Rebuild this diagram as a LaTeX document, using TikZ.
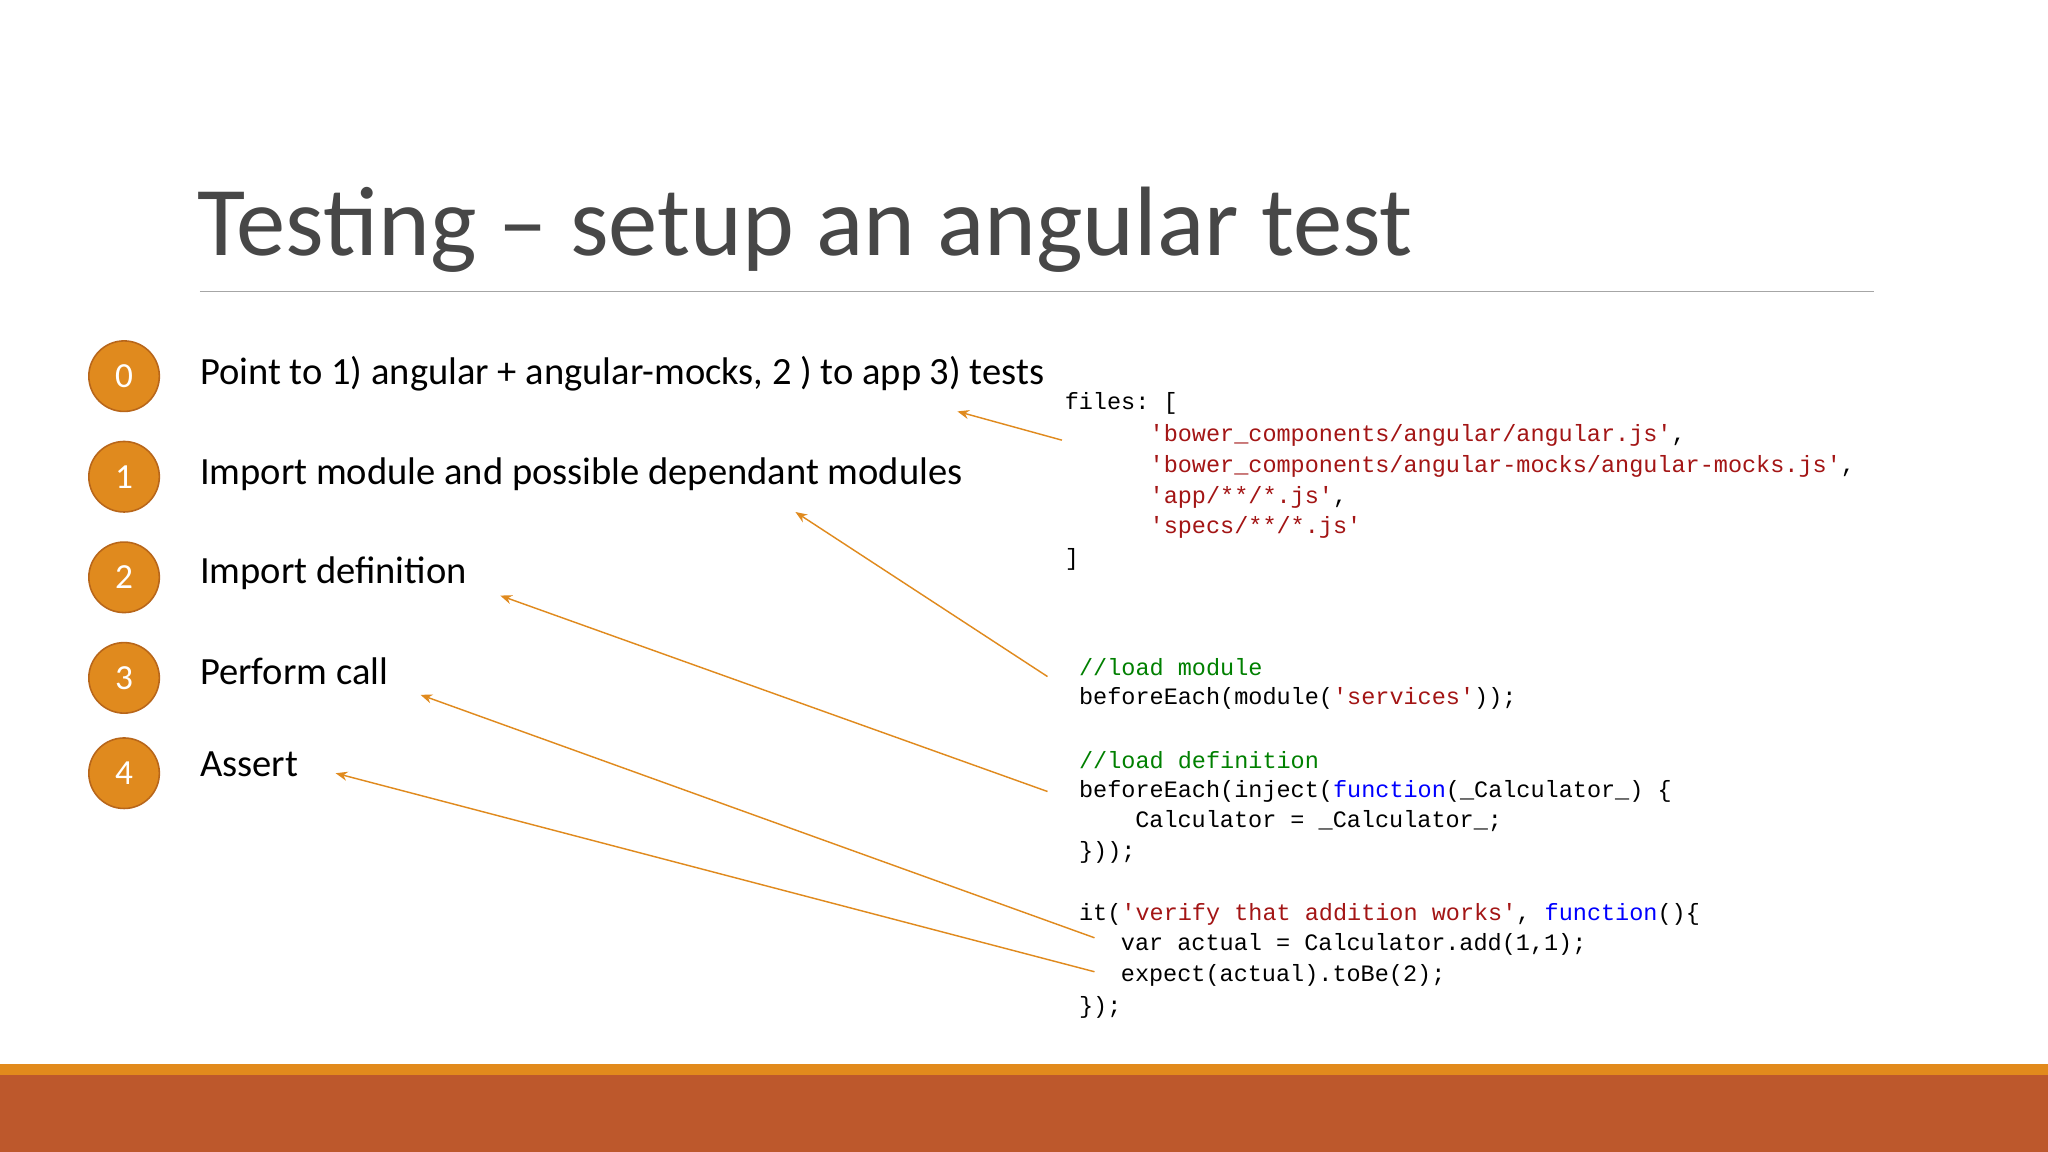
\documentclass[tikz,border=0pt]{standalone}
\usetikzlibrary{arrows.meta}
\usepackage{fontspec}
\setmainfont{Carlito}
\setmonofont{Liberation Mono}
\definecolor{circ}{HTML}{E08A1E}
\definecolor{circd}{HTML}{B8661A}
\definecolor{rust}{HTML}{BD582C}
\definecolor{barO}{HTML}{E28A1C}
\definecolor{cmt}{HTML}{008000}
\definecolor{str}{HTML}{A31515}
\definecolor{kw}{HTML}{0000FF}
\definecolor{arr}{HTML}{E08A1E}
\begin{document}
\begin{tikzpicture}[x=1pt,y=-1pt,
  num/.style={circle,fill=circ,draw=circd,line width=1.2pt,minimum size=54pt,inner sep=0pt,text=white,font=\fontsize{27}{30}\selectfont},
  item/.style={anchor=west,inner sep=0pt,font=\fontsize{29.5}{33}\selectfont},
  code/.style={anchor=west,inner sep=0pt,font=\ttfamily\fontsize{18}{22}\selectfont},
  arw/.style={draw=arr,line width=1.1pt,-{Stealth[length=9pt,width=7pt]}}]
\useasboundingbox (0,0) rectangle (1568,882);
\fill[white] (0,0) rectangle (1568,882);
\fill[barO] (0,815) rectangle (1568,823);
\fill[rust] (0,823) rectangle (1568,882);
\node[anchor=west,inner sep=0pt,text=black!72,font=\fontsize{75.5}{80}\selectfont] (title) at (151,176) {Testing – setup an angular test};
\draw[black!35,line width=1pt] (153,223) -- (1435,223);
\foreach \n/\y in {0/288,1/365,2/442,3/519,4/592}{\node[num] (c\n) at (95,\y) {\n};}
\node[item] (t0) at (153,286) {Point to 1) angular + angular-mocks, 2 ) to app 3) tests};
\node[item] (t1) at (153,363) {Import module and possible dependant modules};
\node[item] (t2) at (153,439) {Import definition};
\node[item] (t3) at (153,514) {Perform call};
\node[item] (t4) at (153,585) {Assert};
% files block
\node[code] (f0) at (815,309) {files: [};
\node[code,text=str] (f1) at (880,333) {'bower\_components/angular/angular.js'\textcolor{black}{,}};
\node[code,text=str] (f2) at (880,357) {'bower\_components/angular-mocks/angular-mocks.js'\textcolor{black}{,}};
\node[code,text=str] (f3) at (880,381) {'app/**/*.js'\textcolor{black}{,}};
\node[code,text=str] (f4) at (880,404) {'specs/**/*.js'};
\node[code] (f5) at (815,428) {]};
% second block
\node[code,text=cmt] (g1) at (826,511) {//load module};
\node[code] (g2) at (826,535) {beforeEach(module(\textcolor{str}{'services'}));};
\node[code,text=cmt] (g3) at (826,582) {//load definition};
\node[code] (g4) at (826,606) {beforeEach(inject(\textcolor{kw}{function}(\_Calculator\_) \{};
\node[code] (g5) at (869,629) {Calculator = \_Calculator\_;};
\node[code] (g6) at (826,653) {\}));};
\node[code] (g7) at (826,700) {it(\textcolor{str}{'verify that addition works'}, \textcolor{kw}{function}()\{};
\node[code] (g8) at (858,723) {var actual = Calculator.add(1,1);};
\node[code] (g9) at (858,747) {expect(actual).toBe(2);};
\node[code] (g10) at (826,771) {\});};
% arrows
\coordinate (a0s) at (813,337); \coordinate (a0e) at (733,315);
\coordinate (a1s) at (802,518); \coordinate (a1e) at (609,392);
\coordinate (a2s) at (802,606); \coordinate (a2e) at (383,456);
\coordinate (a3s) at (838,718); \coordinate (a3e) at (322,532);
\coordinate (a4s) at (838,744); \coordinate (a4e) at (257,592);
\foreach \i in {0,...,4}{\draw[arw] (a\i s) -- (a\i e);}
\end{tikzpicture}
\end{document}
